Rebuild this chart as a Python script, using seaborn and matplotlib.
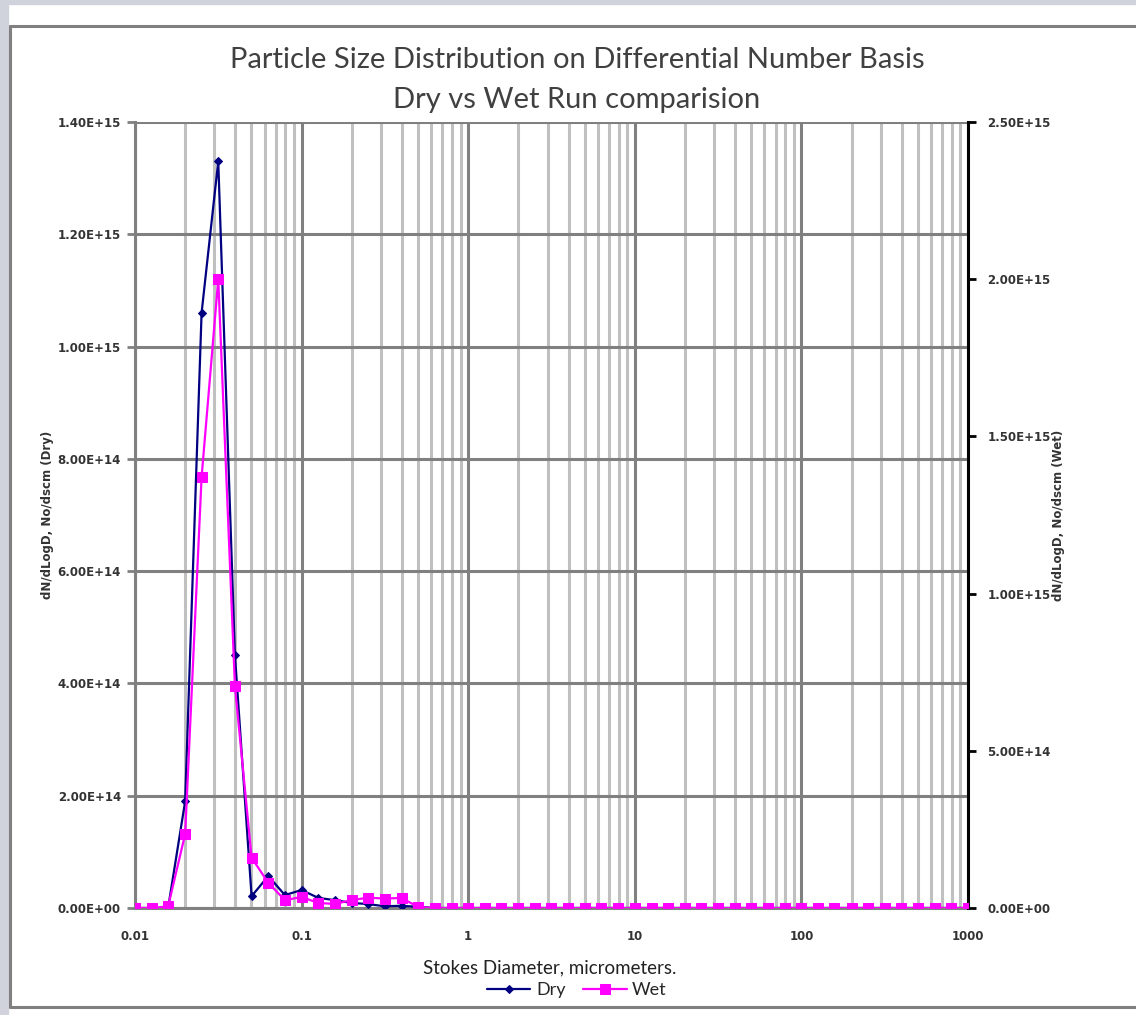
import numpy as np
import pandas as pd
import matplotlib
matplotlib.use("Agg")
import matplotlib.pyplot as plt
import seaborn as sns
from matplotlib.lines import Line2D
from matplotlib.patches import Rectangle
from matplotlib.ticker import FixedLocator, FuncFormatter, LogLocator, NullFormatter

# ---------------- data ----------------
diameter_um = [0.01, 0.0126, 0.0158, 0.02, 0.0251, 0.0316, 0.0398, 0.0501, 0.0631, 0.0794,
               0.1, 0.126, 0.158, 0.2, 0.251, 0.316, 0.398, 0.501, 0.631, 0.794,
               1, 1.26, 1.58, 2, 2.51, 3.16, 3.98, 5.01, 6.31, 7.94,
               10, 12.6, 15.8, 20, 25.1, 31.6, 39.8, 50.1, 63.1, 79.4,
               100, 126, 158, 200, 251, 316, 398, 501, 631, 794, 1000]

dry_dn = [0, 0, 0, 1.9e14, 1.06e15, 1.33e15, 4.5e14, 2.1e13, 5.7e13, 2.3e13,
          3.2e13, 1.8e13, 1.4e13, 9e12, 7e12, 3e12, 4e12, 2e12, 0, 0,
          0, 0, 0, 0, 0, 0, 0, 0, 0, 0,
          0, 0, 0, 0, 0, 0, 0, 0, 0, 0,
          0, 0, 0, 0, 0, 0, 0, 0, 0, 0, 0]

wet_dn = [0, 0, 5e12, 2.35e14, 1.37e15, 2.0e15, 7.05e14, 1.6e14, 8e13, 2.5e13,
          3.5e13, 1.6e13, 1.3e13, 2.5e13, 3.3e13, 3e13, 3.2e13, 3e12, 0, 0,
          0, 0, 0, 0, 0, 0, 0, 0, 0, 0,
          0, 0, 0, 0, 0, 0, 0, 0, 0, 0,
          0, 0, 0, 0, 0, 0, 0, 0, 0, 0, 0]

left_ticks = [0, 2e14, 4e14, 6e14, 8e14, 1e15, 1.2e15, 1.4e15]
right_ticks = [0, 5e14, 1e15, 1.5e15, 2e15, 2.5e15]
x_ticks = [0.01, 0.1, 1, 10, 100, 1000]
x_tick_labels = ["0.01", "0.1", "1", "10", "100", "1000"]

df = pd.DataFrame({"d": diameter_um, "Dry": dry_dn, "Wet": wet_dn})

sns.set_style("white")
plt.rcParams["font.family"] = ["Lato", "DejaVu Sans"]

W, H = 1136, 1015
fig = plt.figure(figsize=(W / 100, H / 100), dpi=100)

# worksheet-like frame around the chart
bg = "#d0d3dc"
fig.patches.append(Rectangle((0, 0), 8 / W, 1, transform=fig.transFigure, color=bg, zorder=-5))
fig.patches.append(Rectangle((0, 1 - 4 / H), 1, 4 / H, transform=fig.transFigure, color=bg, zorder=-5))
fig.lines.append(Line2D([9.5 / W, 1], [1 - 25.5 / H, 1 - 25.5 / H], transform=fig.transFigure, color="#808080", lw=2.2))
fig.lines.append(Line2D([9.5 / W, 9.5 / W], [1 - 25.5 / H, 1 - 1006.5 / H], transform=fig.transFigure, color="#808080", lw=2.2))
fig.lines.append(Line2D([9.5 / W, 1], [1 - 1006.5 / H, 1 - 1006.5 / H], transform=fig.transFigure, color="#808080", lw=2.2))

ax = fig.add_axes([135 / W, 1 - 908 / H, (968 - 135) / W, (908 - 122) / H])
ax2 = ax.twinx()

# ---------------- lines ----------------
sns.lineplot(data=df, x="d", y="Dry", ax=ax, color="#000080", lw=1.6,
             marker="D", markersize=4.5, markeredgecolor="#000080", label="Dry", legend=False, zorder=3)
sns.lineplot(data=df, x="d", y="Wet", ax=ax2, color="#ff00ff", lw=1.6,
             marker="s", markersize=7, markeredgecolor="#ff00ff", label="Wet", legend=False, zorder=3)

ax.set_xscale("log")
ax.set_xlim(0.01, 1000)
ax.set_ylim(0, 1.4e15)
ax2.set_ylim(0, 2.5e15)

ax.set_xticks(x_ticks)
ax.set_xticklabels(x_tick_labels)
ax.xaxis.set_minor_locator(LogLocator(base=10, subs=np.arange(2, 10)))
ax.xaxis.set_minor_formatter(NullFormatter())
ax.yaxis.set_major_locator(FixedLocator(left_ticks))
ax2.yaxis.set_major_locator(FixedLocator(right_ticks))
sci = FuncFormatter(lambda v, p: f"{v:.2E}")
ax.yaxis.set_major_formatter(sci)
ax2.yaxis.set_major_formatter(sci)

# grid
ax.grid(which="major", axis="both", color="#808080", lw=2.2)
ax.grid(which="minor", axis="x", color="#c0c0c0", lw=2.2)
ax.set_axisbelow(True)
ax2.grid(False)

for s in ["top", "right"]:
    ax.spines[s].set_visible(False)
ax.spines["left"].set_color("#808080")
ax.spines["left"].set_linewidth(2.2)
ax.spines["bottom"].set_color("#808080")
ax.spines["bottom"].set_linewidth(2.2)
for s in ["top", "left", "bottom"]:
    ax2.spines[s].set_visible(False)
ax2.spines["right"].set_color("black")
ax2.spines["right"].set_linewidth(2.2)

small = {"family": "DejaVu Sans", "weight": "bold", "size": 8.5}
ax.tick_params(axis="y", which="major", direction="out", length=6, width=2, color="#808080",
               labelcolor="#333333", left=True, pad=4)
ax.tick_params(axis="x", which="both", length=0, labelcolor="#333333", pad=16)
ax2.tick_params(axis="y", direction="out", length=6, width=2, color="black",
                labelcolor="#333333", right=True, pad=8)
for lab in ax.get_yticklabels() + ax.get_xticklabels() + ax2.get_yticklabels():
    lab.set_fontproperties(small)

ax.set_xlabel("Stokes Diameter, micrometers.", fontsize=13.5, color="#222222")
ax.xaxis.set_label_coords((550 - 135) / 833, (908 - 968) / 786)
ax.xaxis.label.set_va("center")
ax.set_ylabel("dN/dLogD, No/dscm (Dry)", fontdict=small, color="#333333")
ax.yaxis.set_label_coords((48 - 135) / 833, 0.5)
ax.yaxis.label.set_va("center")
ax2.set_ylabel("dN/dLogD, No/dscm (Wet)", fontdict=small, color="#333333")
ax2.yaxis.set_label_coords((1058 - 135) / 833, 0.5)
ax2.yaxis.label.set_va("center")

fig.text(577 / W, 1 - 60 / H, "Particle Size Distribution on Differential Number Basis",
         ha="center", va="center", fontsize=21, color="#404040")
fig.text(577 / W, 1 - 100 / H, "Dry vs Wet Run comparision",
         ha="center", va="center", fontsize=21, color="#404040")

h1, l1 = ax.get_legend_handles_labels()
h2, l2 = ax2.get_legend_handles_labels()
fig.legend(h1 + h2, l1 + l2, loc="center", bbox_to_anchor=(577 / W, 1 - 990 / H), ncol=2,
           frameon=False, fontsize=13, handlelength=2.4, columnspacing=1.0, handletextpad=0.3,
           borderaxespad=0, borderpad=0)

fig.savefig("out.png", dpi=100, facecolor="white")
